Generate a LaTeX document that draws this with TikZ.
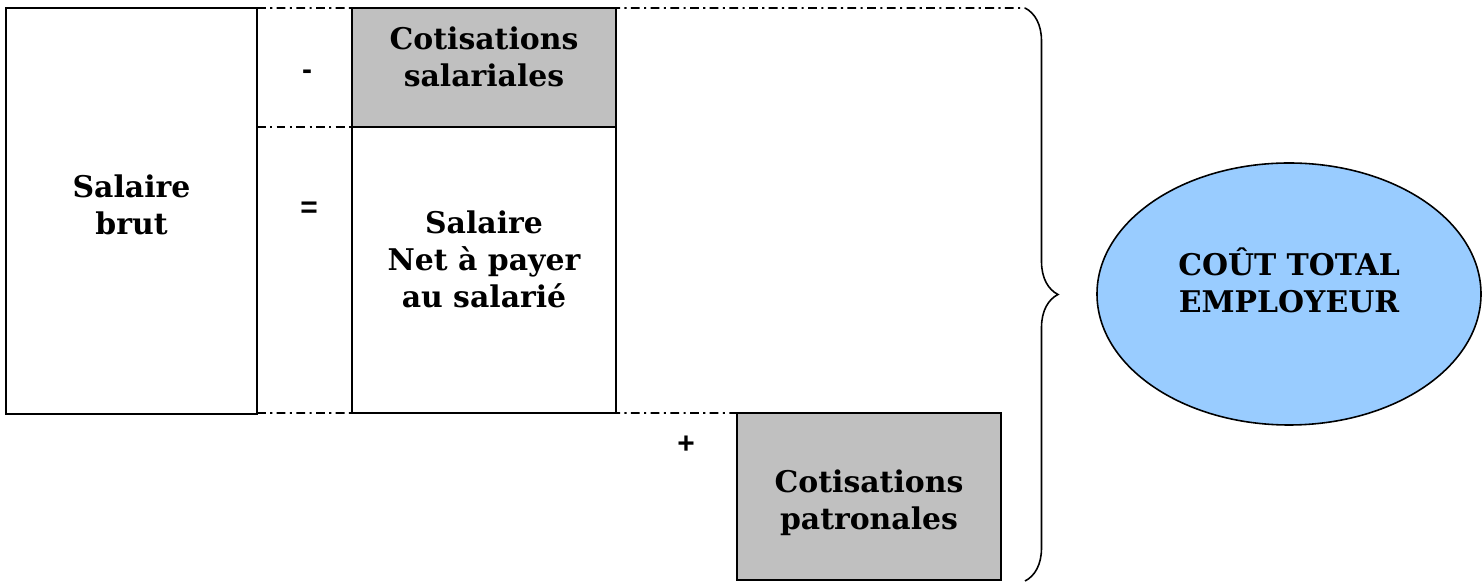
\documentclass[tikz,border=0pt]{standalone}
\usepackage{fontspec}
\setmainfont{DejaVu Serif}
\newfontfamily\signfont{Liberation Sans}
\usepackage{xcolor}
\usepackage{tikz}
\usetikzlibrary{positioning,calc,shapes.geometric,decorations.pathreplacing}
\definecolor{boxgray}{HTML}{C0C0C0}
\definecolor{skyblue}{HTML}{99CCFF}
\tikzset{
    paybox/.style={draw=black,fill=white,line width=1.1pt,inner sep=0pt,outer sep=0pt},
    graybox/.style={paybox,fill=boxgray},
    boxtext/.style={inner sep=0pt,font=\bfseries\fontsize{17}{21}\selectfont,align=center},
    totalnode/.style={draw=black,fill=skyblue,ellipse,line width=0.9pt,inner sep=0pt,
      minimum width=7.68cm,minimum height=5.24cm},
    signlabel/.style={font=\signfont\bfseries\fontsize{17}{17}\selectfont,inner sep=1pt},
    dashdotline/.style={draw=black,line width=1.1pt,
      dash pattern=on 5pt off 2.5pt on 1.2pt off 2.5pt},
    sumbrace/.style={draw=black,line width=0.9pt,
      decorate,decoration={brace,amplitude=0.66cm,aspect=0.5}}
}
\begin{document}
\begin{tikzpicture}
  \useasboundingbox (0,0) rectangle (29.66,11.66);
  % left column
  \node[paybox,minimum width=5.02cm,minimum height=8.12cm,
    label={[boxtext,yshift=3.4pt]center:Salaire\\brut}] (brut) at (2.63,7.44) {};
  % middle column
  \node[graybox,minimum width=5.28cm,minimum height=2.38cm,
    label={[boxtext,yshift=6pt]center:Cotisations\\salariales}] (cotsal) at (9.68,10.31) {};
  \node[paybox,minimum width=5.28cm,minimum height=5.72cm,below=0pt of cotsal,
    label={[boxtext,yshift=6.2pt]center:Salaire\\Net à payer\\au salarié}] (netpay) {};
  % employer part
  \node[graybox,minimum width=5.28cm,minimum height=3.34cm,
    label={[boxtext,yshift=-3.7pt]center:Cotisations\\patronales}] (cotpat) at (17.38,1.73) {};
  \node[totalnode,
    label={[boxtext,yshift=7.6pt]center:COÛT TOTAL\\EMPLOYEUR}] (cout) at (25.78,5.78) {};

  \coordinate (btop) at (20.5,11.5);
  \coordinate (bbot) at (20.5,0.04);

  % separators
  \draw[dashdotline] (brut.north east) -- (btop);
  \draw[dashdotline] (brut.east |- cotsal.south) -- (cotsal.south west);
  \draw[dashdotline] (brut.east |- netpay.south) -- (cotpat.north west);
  \node[signlabel] (minus) at (6.14,10.16) {-};
  \node[signlabel] (equal) at (6.18,7.46) {=};
  \node[signlabel] (plus) at (13.72,2.76) {+};

  % redraw boxes over the lines
  \draw[line width=1.1pt] (cotsal.north west) rectangle (cotsal.south east);
  \draw[line width=1.1pt] (cotpat.north west) rectangle (cotpat.south east);

  \draw[sumbrace] (btop) -- (bbot);
\end{tikzpicture}
\end{document}
